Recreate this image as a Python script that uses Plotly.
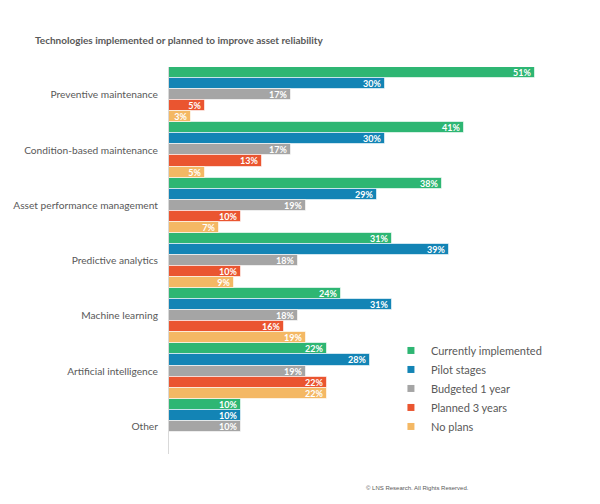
import plotly.graph_objects as go

categories = ["Preventive maintenance", "Condition-based maintenance", "Asset performance management",
              "Predictive analytics", "Machine learning", "Artificial intelligence", "Other"]
series_names = ["Currently implemented", "Pilot stages", "Budgeted 1 year", "Planned 3 years", "No plans"]
currently = [51, 41, 38, 31, 24, 22, 10]
pilot = [30, 30, 29, 39, 31, 28, 10]
budgeted = [17, 17, 19, 18, 18, 19, 10]
planned = [5, 13, 10, 10, 16, 22, None]
no_plans = [3, 5, 7, 9, 19, 22, None]
colors = ["#2EB673", "#1384B5", "#A5A5A5", "#EA5530", "#F4B864"]

fig = go.Figure()
for i, (name, vals) in enumerate(zip(series_names, [currently, pilot, budgeted, planned, no_plans])):
    fig.add_trace(go.Bar(
        y=categories, x=vals, name=name, orientation="h",
        marker=dict(color=colors[i], line=dict(color="rgba(255,255,255,0.6)", width=1)),
        text=[f"{v}%" if v is not None else "" for v in vals],
        textposition="inside", insidetextanchor="end",
        textfont=dict(color="white", size=9, family="Lato", weight="bold"),
        legendgroup=name, showlegend=False, hoverinfo="skip",
    ))
# legend entries with small square swatches
for i, name in enumerate(series_names):
    fig.add_trace(go.Scatter(
        x=[None], y=[None], mode="markers", name=name, legendgroup=name,
        marker=dict(symbol="square", size=7, color=colors[i]), hoverinfo="skip",
    ))

fig.update_layout(
    width=600, height=504,
    barmode="group", bargap=0, bargroupgap=0,
    plot_bgcolor="white", paper_bgcolor="white",
    margin=dict(l=169, r=20, t=67, b=50),
    uniformtext=dict(minsize=9, mode="show"),
    title=dict(text="<b>Technologies implemented or planned to improve asset reliability</b>",
               x=35/600, xanchor="left", y=1-40/504, yanchor="middle",
               font=dict(family="Lato", size=10, color="#595959")),
    legend=dict(x=0.54, y=0.305, xanchor="left", yanchor="top", traceorder="grouped",
                tracegroupgap=0, itemwidth=30, font=dict(family="Lato", size=11, color="#595959"),
                bgcolor="rgba(0,0,0,0)"),
    xaxis=dict(range=[0, 57.2], showgrid=False, showticklabels=False, zeroline=False, showline=False),
    yaxis=dict(autorange="reversed", showgrid=False, showline=True, linecolor="#D9D9D9", linewidth=1,
               ticks="", ticklabelstandoff=8, automargin=False,
               tickfont=dict(family="Lato", size=10.2, color="#595959")),
    annotations=[dict(text="© LNS Research. All Rights Reserved.", xref="paper", yref="paper",
                      x=(417-169)/411, y=-(488-454)/387, xanchor="center", yanchor="middle",
                      showarrow=False, font=dict(family="Liberation Sans", size=6, color="#595959"))],
)
fig.write_html("out.html", config={"displayModeBar": False},
               post_script="document.body.style.margin='0';")
